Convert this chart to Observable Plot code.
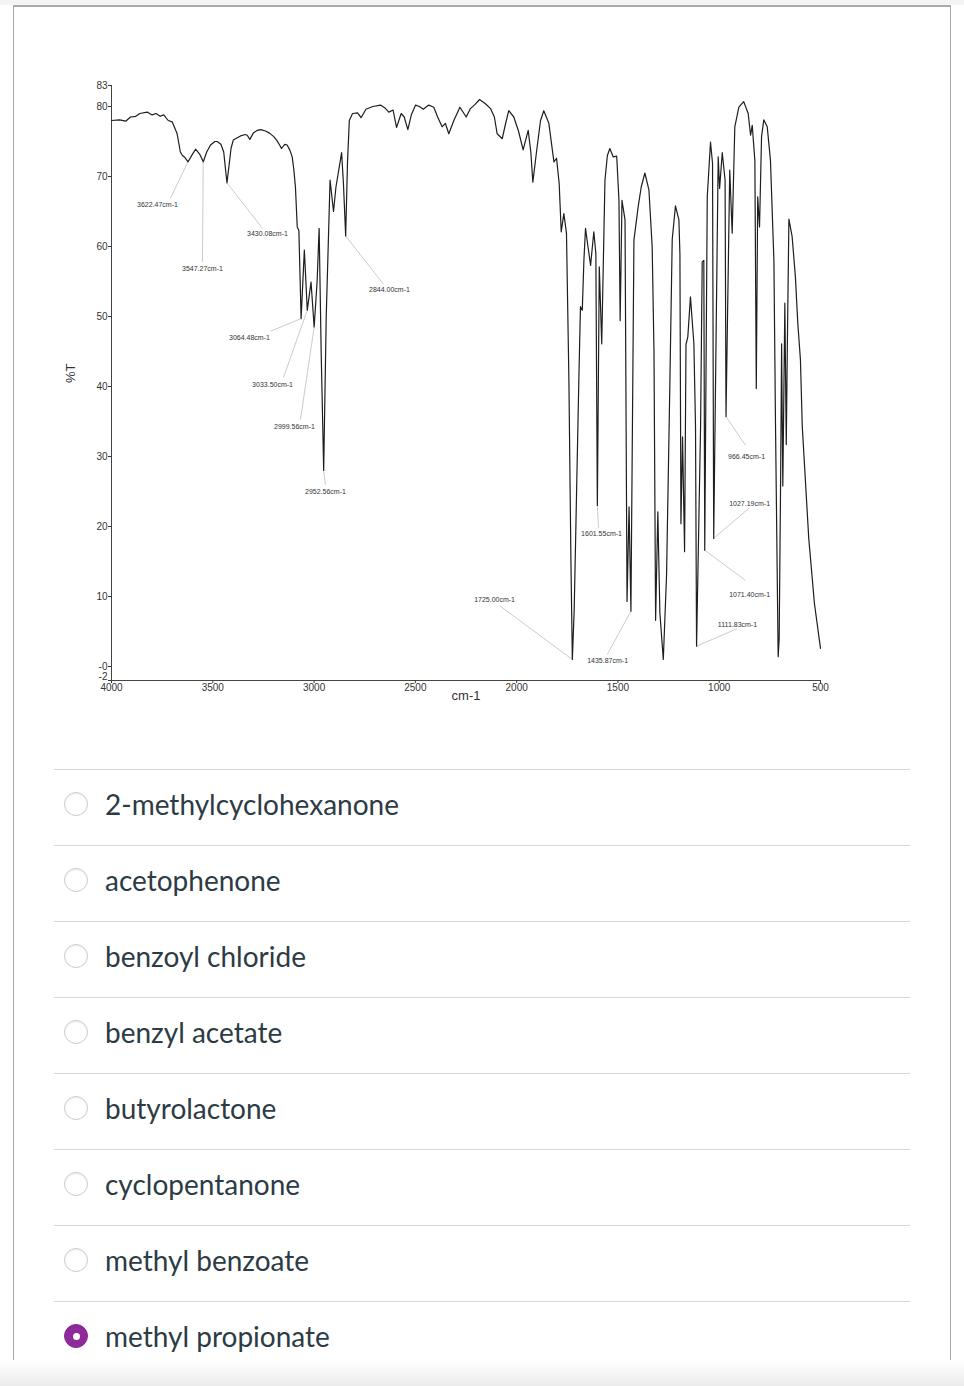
<!DOCTYPE html>
<html><head><meta charset="utf-8">
<script src="https://cdn.jsdelivr.net/npm/d3@7"></script>
<script src="https://cdn.jsdelivr.net/npm/@observablehq/plot@0.6"></script>
<style>
body{margin:0;background:#fff;font-family:Lato,"Liberation Sans",sans-serif;}
#page{position:relative;width:964px;height:1386px;overflow:hidden;background:#fff;}
#topband{position:absolute;left:0;top:0;width:964px;height:5px;background:#f4f4f4;}
#card{position:absolute;left:13px;top:5px;width:938px;height:1400px;border-top:2px solid #aaa;border-left:1px solid #aaa;border-right:1px solid #aaa;box-sizing:border-box;}
#chart{position:absolute;left:14px;top:8px;}
#opts{position:absolute;left:54px;top:769px;width:856px;}
.opt{height:76px;border-top:1px solid #d8d8d8;position:relative;box-sizing:border-box;}
.radio{position:absolute;left:10px;top:22px;width:24px;height:24px;border-radius:50%;border:1px solid #c7cdd1;box-sizing:border-box;background:#fff;box-shadow:inset 0 1px 2px rgba(0,0,0,0.08);}
.radio.sel{background:#8f2a9b;border-color:#8f2a9b;}
.radio.sel::after{content:"";position:absolute;left:8px;top:8px;width:7px;height:7px;border-radius:50%;background:#fff;}
.lbl{position:absolute;left:51px;top:0;height:68px;line-height:68px;font-size:28px;color:#2d3b45;}
#bottomband{position:absolute;left:0;top:1360px;width:964px;height:26px;background:linear-gradient(#fff,#ececec);}
</style>
</head><body>
<div id="page">
<div id="topband"></div>
<div id="card"></div>
<div id="bottomband"></div>
<div id="chart"></div>
<div id="opts"></div>
</div>
<script>
// Spectrum: wavenumber (cm-1) and %T
const wn = [4000,3960,3930,3906,3880,3860,3824,3800,3780,3760,3742,3720,3700,3676,3660,3650,3640,3622,3600,3585,3565,3547,3530,3511,3490,3478,3460,3446,3437,3430,3420,3410,3399,3363,3340,3330,3317,3300,3280,3264,3240,3220,3199,3185,3170,3161,3145,3133,3120,3108,3100,3092,3083,3075,3064,3048,3033.5,3015,2999.56,2985,2975,2965,2952.56,2940,2921,2904,2892,2864,2855,2844,2835,2826,2810,2785,2768,2744,2710,2672,2650,2631,2610,2593,2570,2555,2537,2520,2499,2480,2461,2434,2409,2390,2368,2352,2335,2310,2280,2249,2228,2205,2183,2154,2129,2110,2096,2071,2055,2039,2014,1991,1968,1943,1930,1920,1902,1882,1866,1841,1816,1803,1790,1780,1767,1754,1742,1732,1725,1716,1709,1693,1685,1676,1668,1660,1648,1635,1619,1609,1601.55,1592,1580,1564,1552,1540,1523,1506,1495,1489,1480,1465,1455,1445,1435.87,1421,1400,1385,1367,1347,1331,1322,1314,1303,1293,1276,1260,1244,1232,1216,1199,1194,1189,1181,1171,1164,1155,1142,1125,1117,1111.83,1092,1084,1076,1071.4,1059,1043,1033,1027.19,1005,998,985,971,966.45,948,936,923,903,879,857,845,837,824,817,810,801,791,780,763,747,730,722,714,709,704,697,692,686,676,669,664,656,640,624,612,599,590,558,530,500];
const T = [78.0,78.1,77.9,78.5,78.6,79.0,79.2,78.8,79.0,78.6,78.8,78.0,77.8,76.1,73.5,73.0,72.8,72.1,73.2,73.9,73.2,72.1,73.5,74.5,75.0,75.0,74.6,73.5,71.0,69.1,71.5,74.0,75.2,75.8,76.0,75.9,75.3,76.2,76.6,76.7,76.5,76.2,75.7,75.2,74.5,74.0,74.6,74.5,73.8,72.8,71.0,68.5,62.8,62.3,49.7,59.5,50.9,54.9,48.5,55.0,62.6,45.0,28.0,50.0,69.5,65.0,68.5,73.4,69.0,61.5,72.0,78.0,79.0,79.1,78.4,79.6,80.0,80.2,79.8,79.2,79.5,77.0,79.0,78.5,76.7,78.8,80.2,80.0,79.6,80.2,79.9,78.5,77.1,77.6,76.1,78.0,79.9,78.5,79.7,80.3,81.0,80.4,79.7,78.5,76.1,75.4,77.5,79.4,78.5,76.5,73.8,76.6,73.5,69.2,73.5,78.0,79.4,77.6,72.1,72.6,69.0,62.1,64.7,61.9,40.9,15.0,1.0,8.0,17.9,40.9,51.4,50.9,58.0,62.6,60.0,57.3,62.1,59.0,23.0,57.1,46.1,69.5,73.0,74.0,72.8,72.9,66.6,49.4,66.6,63.8,9.3,22.8,7.9,60.9,65.7,68.5,70.5,68.1,60.0,45.0,6.6,22.1,7.7,1.0,13.0,39.7,61.0,65.8,63.8,59.0,20.4,32.8,16.4,46.0,47.1,52.8,46.1,34.3,2.9,34.3,57.8,58.0,16.6,67.1,74.9,71.9,18.3,72.8,68.3,73.4,69.5,35.7,70.9,61.9,77.1,79.9,80.7,79.0,75.9,77.3,72.3,39.7,67.1,62.8,75.7,78.1,77.1,72.3,58.0,34.3,14.0,1.4,4.0,26.3,46.1,25.8,51.9,31.7,45.0,63.9,61.4,55.7,49.0,43.8,34.3,18.3,9.0,2.6];

// Peak annotations
const annText = ["3622.47cm-1","3547.27cm-1","3430.08cm-1","2844.00cm-1","3064.48cm-1","3033.50cm-1","2999.56cm-1","2952.56cm-1","1725.00cm-1","1601.55cm-1","1435.87cm-1","966.45cm-1","1027.19cm-1","1071.40cm-1","1111.83cm-1"];
const annTextWn = [3773,3551,3230,2628,3319,3205,3097,2944,2109,1581,1551,865,850,850,910];
const annTextT = [65.9,56.8,61.8,53.8,46.9,40.3,34.3,25.0,9.5,18.9,0.8,29.9,23.2,10.3,6.0];
const annFromWn = [3709,3551,3255,2657,3215,3151,3067,2944,2080,1596,1553,870,854,870,912];
const annFromT = [66.9,57.8,62.6,54.6,47.9,41.3,35.3,26.0,8.6,19.8,1.7,31.6,22.6,12.3,5.4];
const annPeakWn = [3622.47,3547.27,3430.08,2844.0,3064.48,3033.5,2999.56,2952.56,1725.0,1601.55,1435.87,966.45,1027.19,1071.4,1111.83];
const annPeakT = [72.1,72.1,69.1,61.5,49.7,50.9,48.5,28.0,1.0,23.0,7.9,35.7,18.3,16.6,2.9];

const xTicks = [4000,3500,3000,2500,2000,1500,1000,500];
const yTicks = [-2,0,10,20,30,40,50,60,70,80,83];
const yTickLabels = ["-2","-0","10","20","30","40","50","60","70","80","83"];
const xTitle = "cm-1";
const yTitle = "%T";

const options = ["2-methylcyclohexanone","acetophenone","benzoyl chloride","benzyl acetate","butyrolactone","cyclopentanone","methyl benzoate","methyl propionate"];
const selectedOption = "methyl propionate";

const spectrum = wn.map((w,i)=>({w, t:T[i]}));
const ann = annText.map((s,i)=>({s, tx:annTextWn[i], ty:annTextT[i], fx:annFromWn[i], fy:annFromT[i], px:annPeakWn[i], py:annPeakT[i]}));
const yLow = yTicks[0];

const chart = Plot.plot({
  width:900, height:735,
  marginTop:77, marginBottom:63, marginLeft:97, marginRight:94,
  style:{fontFamily:"'Liberation Sans', Arial, sans-serif", fontSize:"10px", color:"#333", background:"transparent"},
  x:{domain:[4000,500]},
  y:{domain:[-2,83]},
  marks:[
    Plot.axisX({ticks:xTicks, tickSize:3, tickPadding:0, tickFormat:d=>String(d), label:null, fontSize:10, fill:"#333"}),
    Plot.axisY({ticks:yTicks, tickSize:3, tickPadding:1, tickFormat:d=>(d===yLow ? "" : yTickLabels[yTicks.indexOf(d)]), label:null, fontSize:10, fill:"#333"}),
    Plot.axisY({ticks:[yLow], tickSize:0, tickPadding:4, dy:-4, tickFormat:d=>yTickLabels[yTicks.indexOf(d)], label:null, fontSize:10, fill:"#333"}),
    Plot.ruleY([-2], {stroke:"#444", strokeWidth:1}),
    Plot.ruleX([4000], {stroke:"#444", strokeWidth:1}),
    Plot.link(ann, {x1:"fx", y1:"fy", x2:"px", y2:"py", stroke:"#b5b5b5", strokeWidth:0.7}),
    Plot.line(spectrum, {x:"w", y:"t", stroke:"#1e1e1e", strokeWidth:1.2}),
    Plot.text(ann, {x:"tx", y:"ty", text:"s", fontSize:7, fill:"#333"}),
    Plot.text([xTitle], {frameAnchor:"bottom", dy:19, fontSize:13, fill:"#333"}),
    Plot.text([yTitle], {frameAnchor:"left", dx:-41, rotate:-90, fontSize:13, fill:"#333"})
  ]
});
document.getElementById("chart").appendChild(chart);

const opts = document.getElementById("opts");
options.forEach(o=>{
  const row = document.createElement("div");
  row.className = "opt";
  const r = document.createElement("div");
  r.className = "radio" + (o===selectedOption ? " sel" : "");
  const l = document.createElement("div");
  l.className = "lbl";
  l.textContent = o;
  row.appendChild(r); row.appendChild(l);
  opts.appendChild(row);
});
</script>
</body></html>
